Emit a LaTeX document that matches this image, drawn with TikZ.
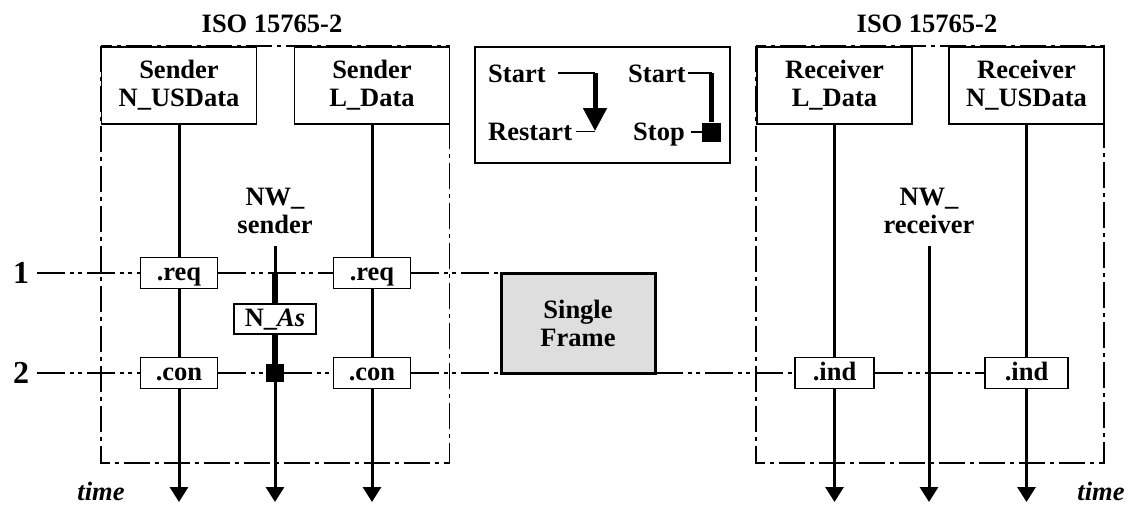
\documentclass[tikz,border=0pt]{standalone}
\usepackage{fontspec}
\setmainfont{Liberation Serif}
\usetikzlibrary{positioning}
\usetikzlibrary{arrows.meta}
\usetikzlibrary{calc}

\definecolor{framegray}{HTML}{DEDEDE}
\newcommand{\lblfont}{\fontsize{26.5}{28}\selectfont\bfseries}
\tikzset{
  hdr/.style={draw, line width=1.8pt, minimum width=155pt, minimum height=77pt, inner sep=0pt, align=center, font=\lblfont},
  prim/.style={draw, fill=white, line width=1.8pt, minimum width=77pt, minimum height=31pt, inner sep=0pt, text height=17pt, text depth=3pt, font=\lblfont},
  txt/.style={inner sep=0pt, align=center, font=\lblfont},
  rownum/.style={inner sep=0pt, inner xsep=8pt, font=\fontsize{32}{36}\selectfont\bfseries},
  lifeline/.style={line width=3pt},
  timeline/.style={line width=3pt, -{Triangle[width=18pt,length=15pt]}},
  isoframe/.style={line width=1.8pt, dash pattern=on 26pt off 5pt on 4pt off 5pt},
  rowline/.style={line width=1.8pt, dash pattern=on 28pt off 5pt on 4pt off 4pt on 4pt off 5pt},
}

\begin{document}
\begin{tikzpicture}[x=1pt, y=-1pt]
        \useasboundingbox (0,0) rectangle (1127,504);

        % sender side
        \node[hdr] (sndN) at (179,85.5) {Sender\\N\_USData};
        \node[hdr] (sndL) at (372,85.5) {Sender\\L\_Data};
        \coordinate (isoA) at (449.5,463);
        \draw[isoframe] (sndN.north west) rectangle (isoA);
        \node[txt, anchor=base] (isoAlbl) at (272,32) {ISO 15765-2};
        \node[txt] (nws) at (275,211) {NW\_\\sender};

        \node[prim] (reqA) at (179,273) {.req};
        \node[prim] (reqB) at (372,273) {.req};
        \node[prim] (conA) at (179,373) {.con};
        \node[prim] (conB) at (372,373) {.con};
        \node[prim, minimum width=82pt, minimum height=30pt] (nas) at (275,319) {N\_\textit{As}};
        \node[fill=black, minimum size=18pt, inner sep=0pt] (stopS) at (275,373) {};

        % legend
        \node[draw, line width=1.8pt, minimum width=255pt, minimum height=116pt] (legend) at (602.5,105) {};
        \node[txt, anchor=base west] (stA) at (488,82) {Start};
        \node[txt, anchor=base west] (rstA) at (488,140) {Restart};
        \coordinate (tipA) at (595,131);
        \draw[line width=1.8pt, shorten <=12pt] (stA.east) -- (stA.east -| tipA) coordinate (cnA);
        \draw[line width=5pt, -{Triangle[width=23pt,length=23pt]}] (cnA) -- (tipA);
        \draw[line width=1.8pt, shorten <=4pt] (rstA.east) -- (rstA.east -| tipA);
        \node[txt, anchor=base west] (stB) at (628,82) {Start};
        \node[txt, anchor=base west] (spB) at (633,140) {Stop};
        \node[fill=black, minimum size=19pt, inner sep=0pt] (sqB) at (711.5,132) {};
        \draw[line width=1.8pt, shorten <=2pt] (stB.east) -- (stB.east -| sqB) coordinate (cnB);
        \draw[line width=5pt] (cnB) -- (sqB.north);
        \draw[line width=1.8pt, shorten <=6pt] (spB.east |- sqB) -- (sqB.west);

        % frame
        \node[draw, fill=framegray, line width=3pt, outer sep=0pt, minimum width=154pt, minimum height=100pt, align=center, font=\lblfont] (frame) at (578,323) {Single\\Frame};

        % receiver side
        \node[hdr] (rcvL) at (834.5,85.5) {Receiver\\L\_Data};
        \node[hdr] (rcvN) at (1026.5,85.5) {Receiver\\N\_USData};
        \coordinate (isoB) at (1104,463);
        \draw[isoframe] (rcvL.north west) rectangle (isoB);
        \node[txt, anchor=base] (isoBlbl) at (927,32) {ISO 15765-2};
        \node[txt] (nwr) at (929,211) {NW\_\\receiver};
        \node[prim, minimum width=79pt] (indA) at (834.5,373) {.ind};
        \node[prim, minimum width=83pt] (indB) at (1026.5,373) {.ind};

        % rows
        \node[rownum] (one) at (21,273) {1};
        \node[rownum] (two) at (21,373) {2};
        \draw[rowline] (one.east) -- (reqA.west);
        \draw[rowline] (reqA.east) -- (reqB.west);
        \draw[rowline] (reqB.east) -- (frame.north west);
        \draw[rowline] (two.east) -- (conA.west);
        \draw[rowline] (conA.east) -- (stopS.west);
        \draw[rowline] (stopS.east) -- (conB.west);
        \draw[rowline] (conB.east) -- (frame.south west);
        \draw[rowline] (frame.south east) -- (indA.west);
        \draw[rowline] (indA.east) -- (indB.west);

        % time lines
        \coordinate (endA) at (179,502);
        \coordinate (endB) at (372,502);
        \coordinate (endC) at (275,502);
        \coordinate (endD) at (834.5,502);
        \coordinate (endE) at (1026.5,502);
        \coordinate (endF) at (929,502);
        \coordinate (nwsTop) at (275,246);
        \coordinate (nwrTop) at (929,246);
        \draw[lifeline] (sndN.south) -- (reqA.north);
        \draw[lifeline] (reqA.south) -- (conA.north);
        \draw[timeline] (conA.south) -- (endA);
        \draw[lifeline] (sndL.south) -- (reqB.north);
        \draw[lifeline] (reqB.south) -- (conB.north);
        \draw[timeline] (conB.south) -- (endB);
        \draw[lifeline] (nwsTop) -- (nwsTop |- reqA);
        \draw[line width=6pt] (nwsTop |- reqA) -- (nas.north);
        \draw[line width=6pt] (nas.south) -- (stopS.north);
        \draw[timeline] (stopS.south) -- (endC);
        \draw[lifeline] (rcvL.south) -- (indA.north);
        \draw[timeline] (indA.south) -- (endD);
        \draw[lifeline] (rcvN.south) -- (indB.north);
        \draw[timeline] (indB.south) -- (endE);
        \draw[timeline] (nwrTop) -- (endF);

        \node[txt, font=\lblfont\itshape, anchor=base] (timeA) at (101,500) {time};
        \node[txt, font=\lblfont\itshape, anchor=base] (timeB) at (1101,500) {time};
\end{tikzpicture}
\end{document}
